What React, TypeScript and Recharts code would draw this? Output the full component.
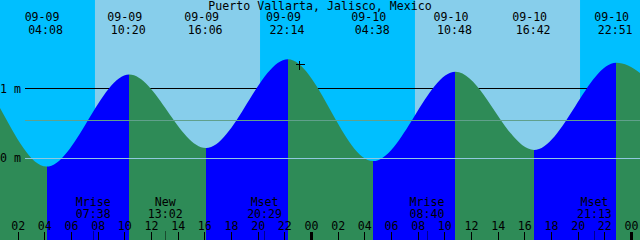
import React from 'react';
import {
  ComposedChart, Area, XAxis, YAxis, ReferenceArea, ReferenceLine, ReferenceDot
} from 'recharts';

// time is hours after 09-09 00:00 local
const tideTimes = [-8.6, -2.37, 4.133, 10.333, 16.1, 22.233, 28.633, 34.8, 40.7, 46.85, 53.17];
const tideHeights = [0.12, 1.40, -0.12, 1.21, 0.15, 1.43, -0.04, 1.25, 0.12, 1.38, 0.02];
const tideDates = ['09-08', '09-08', '09-09', '09-09', '09-09', '09-09', '09-10', '09-10', '09-10', '09-10', '09-11'];
const tideClock = ['15:24', '21:38', '04:08', '10:20', '16:06', '22:14', '04:38', '10:48', '16:42', '22:51', '05:10'];

const sunrise = [7.76, 31.76];
const sunset = [20.14, 44.14];

const moonTimes = [7.633, 13.033, 20.483, 32.667, 45.217];
const moonNames = ['Mrise', 'New', 'Mset', 'Mrise', 'Mset'];
const moonClock = ['07:38', '13:02', '20:29', '08:40', '21:13'];

const hourTicks = [2, 4, 6, 8, 10, 12, 14, 16, 18, 20, 22, 24, 26, 28, 30, 32, 34, 36, 38, 40, 42, 44, 46, 48];
const hourLabels = ['02', '04', '06', '08', '10', '12', '14', '16', '18', '20', '22', '00',
  '02', '04', '06', '08', '10', '12', '14', '16', '18', '20', '22', '00'];

const meanLevel = 0.548;
const nowMark = { t: 23.1, h: 1.35 };

const W = 640;
const H = 240;
const T_MIN = 0.6375;
const T_MAX = 48.6375;
const LINE_START = 2.51;

const NIGHT = '#00BFFF';
const DAY = '#87CEEB';
const FLOOD = '#0000FF';
const EBB = '#2E8B57';
const FONT = 'DejaVu Sans Mono';
const FS = 11.6;

const data = tideTimes.map((t, i) => ({ t, h: tideHeights[i] }));

const t0 = tideTimes[0];
const tn = tideTimes[tideTimes.length - 1];
const stops: React.ReactNode[] = [];
for (let i = 0; i < tideTimes.length - 1; i++) {
  const c = tideHeights[i + 1] > tideHeights[i] ? FLOOD : EBB;
  stops.push(<stop key={i + 'a'} offset={(tideTimes[i] - t0) / (tn - t0)} stopColor={c} />);
  stops.push(<stop key={i + 'b'} offset={(tideTimes[i + 1] - t0) / (tn - t0)} stopColor={c} />);
}

export default function App() {
  return (
    <div style={{ position: 'absolute', left: 0, top: 0, width: W, height: H, background: NIGHT }}>
      <ComposedChart width={W} height={H} data={data} margin={{ top: 0, right: 0, bottom: 0, left: 0 }}>
        <defs>
          <linearGradient id="tideFill" x1="0" y1="0" x2="1" y2="0">
            {stops}
          </linearGradient>
        </defs>
        {sunrise.map((s, i) => (
          <ReferenceArea key={'d' + i} x1={s} x2={sunset[i]} fill={DAY} fillOpacity={1} stroke="none" zIndex={10} />
        ))}
        <ReferenceLine
          segment={[{ x: LINE_START, y: 1 }, { x: T_MAX, y: 1 }]}
          stroke="#000" shapeRendering="crispEdges" zIndex={20}
        />
        <Area
          type="monotone" dataKey="h" fill="url(#tideFill)" fillOpacity={1} stroke="none"
          baseValue="dataMin" isAnimationActive={false} dot={false} activeDot={false}
        />
        <ReferenceLine
          segment={[{ x: LINE_START, y: meanLevel }, { x: T_MAX, y: meanLevel }]}
          stroke="#60A08C" shapeRendering="crispEdges"
        />
        <ReferenceLine
          segment={[{ x: LINE_START, y: 0 }, { x: T_MAX, y: 0 }]}
          stroke="#90C8E0" shapeRendering="crispEdges"
        />
        <XAxis dataKey="t" type="number" domain={[T_MIN, T_MAX]} allowDataOverflow hide />
        <YAxis type="number" domain={[-1.179, 2.284]} allowDataOverflow hide />
        {[1, 0].map((lv) => (
          <ReferenceDot
            key={'lv' + lv} x={LINE_START} y={lv} r={0} ifOverflow="visible"
            shape={(p: any) => (
              <text x={p.cx - 4} y={p.cy + 4} textAnchor="end" fontFamily={FONT} fontSize={FS} fill="#000">
                {lv + ' m'}
              </text>
            )}
          />
        ))}
        {hourTicks.map((t, i) => (
          <ReferenceDot
            key={'h' + i} x={t} y={0} r={0} ifOverflow="visible"
            shape={(p: any) => (
              <g>
                <line x1={p.cx} x2={p.cx} y1={232} y2={240} stroke="#000"
                  strokeWidth={hourLabels[i] === '00' ? 3 : 1} shapeRendering="crispEdges" />
                <text x={p.cx} y={230} textAnchor="middle" fontFamily={FONT} fontSize={FS} fill="#000">{hourLabels[i]}</text>
              </g>
            )}
          />
        ))}
        {tideTimes.map((t, i) => (
          <ReferenceDot
            key={'tl' + i} x={t} y={tideHeights[i]} r={0}
            shape={(p: any) => (
              <g>
                <text x={p.cx - 4.5} y={21} textAnchor="middle" fontFamily={FONT} fontSize={FS} fill="#000">{tideDates[i]}</text>
                <text x={p.cx - 1} y={34} textAnchor="middle" fontFamily={FONT} fontSize={FS} fill="#000">{tideClock[i]}</text>
              </g>
            )}
          />
        ))}
        {moonTimes.map((t, i) => (
          <ReferenceDot
            key={'m' + i} x={t} y={0} r={0}
            shape={(p: any) => (
              <g>
                <line x1={p.cx} x2={p.cx} y1={231} y2={240} stroke="#000" strokeOpacity={0.45} shapeRendering="crispEdges" />
                <text x={p.cx} y={206} textAnchor="middle" fontFamily={FONT} fontSize={FS} fill="#000">{moonNames[i]}</text>
                <text x={p.cx} y={218} textAnchor="middle" fontFamily={FONT} fontSize={FS} fill="#000">{moonClock[i]}</text>
              </g>
            )}
          />
        ))}
        <ReferenceDot
          x={nowMark.t} y={nowMark.h} r={0}
          shape={(p: any) => (
            <path d={`M${p.cx - 4},${p.cy}h9M${p.cx},${p.cy - 4}v9`} stroke="#000" shapeRendering="crispEdges" />
          )}
        />
        <ReferenceDot
          x={(T_MIN + T_MAX) / 2} y={0} r={0}
          shape={(p: any) => (
            <text x={p.cx} y={9.5} textAnchor="middle" fontFamily={FONT} fontSize={FS} fill="#000">
              Puerto Vallarta, Jalisco, Mexico
            </text>
          )}
        />
      </ComposedChart>
    </div>
  );
}
